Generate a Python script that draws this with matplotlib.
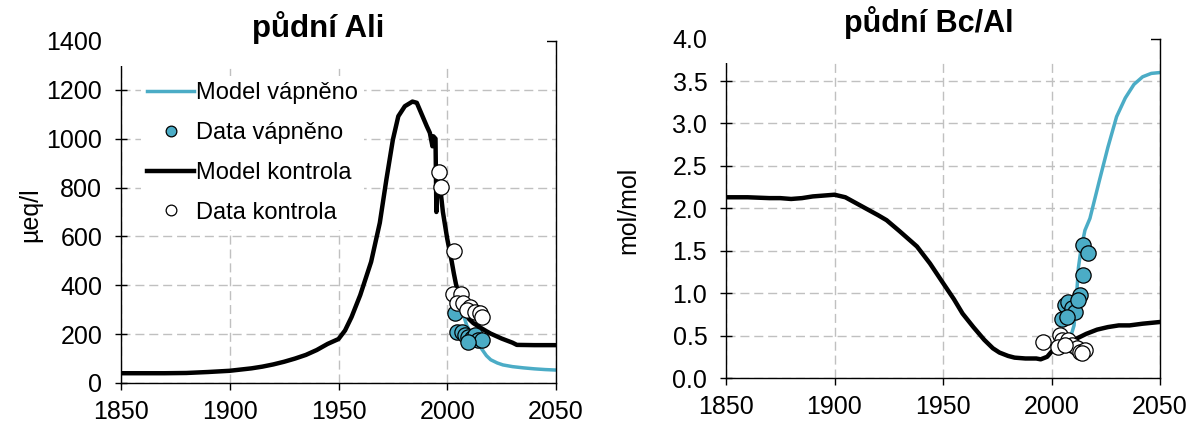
import numpy as np
import matplotlib.pyplot as plt
from matplotlib.patches import Rectangle

plt.rcParams['font.family'] = ['Liberation Sans', 'DejaVu Sans']

BLUE = '#4BACC6'

# --- půdní Ali (µeq/l) ---
ali_kontrola_rok = [1850, 1860, 1870, 1880, 1885, 1890, 1900, 1905, 1910, 1915, 1920, 1925,
                    1930, 1935, 1940, 1945, 1950, 1953, 1956, 1960, 1965, 1969, 1972, 1975,
                    1977.5, 1980.5, 1984, 1986, 1988.3, 1990.6, 1992, 1993.2, 1993.6, 1994.6,
                    1995.0, 1995.5, 1996.7, 1998, 2000, 2002, 2003, 2004, 2005, 2006, 2008,
                    2010, 2012, 2015, 2018, 2020, 2025, 2030, 2032, 2040, 2050]
ali_kontrola = [40, 40, 40, 41, 43, 45, 50, 55, 60, 67, 76, 87,
                100, 115, 135, 160, 180, 215, 270, 360, 496, 656, 832, 996,
                1092, 1133, 1152, 1147, 1099, 1051, 1024, 969, 1010, 1000,
                700, 830, 805, 700, 590, 500, 450, 405, 370, 340, 292,
                262, 245, 228, 212, 202, 182, 165, 156, 155, 155]

ali_vapneno_rok = [2005, 2007, 2009, 2012, 2015, 2018, 2020, 2023, 2025.6, 2030, 2035, 2040, 2045, 2050]
ali_vapneno = [370, 290, 235, 190, 150, 112, 95, 82, 74, 67, 62, 58, 55, 53]

ali_data_vapneno_rok = [2003.6, 2004.3, 2006.6, 2008.2, 2009.7, 2011.2, 2012.8, 2014.3, 2015.8, 2009.7]
ali_data_vapneno = [286, 210, 210, 197, 190, 183, 197, 176, 176, 169]

ali_data_kontrola_rok = [1996.3, 1997.0, 2003.1, 2002.8, 2006.2, 2004.3, 2007.4, 2010.5, 2008.9,
                         2012.8, 2015.1, 2015.8]
ali_data_kontrola = [862, 802, 542, 365, 365, 327, 327, 313, 299, 292, 286, 272]

# --- půdní Bc/Al (mol/mol) ---
bcal_kontrola_rok = [1850, 1860, 1870, 1875, 1880, 1885, 1890, 1895, 1900, 1905, 1910, 1915,
                     1920, 1924, 1930, 1938, 1944, 1950, 1955, 1959, 1964, 1969, 1973, 1976,
                     1980, 1983, 1988, 1993, 1995, 1998, 2000, 2003, 2006, 2009, 2012, 2016,
                     2021, 2026, 2031, 2036, 2042, 2050]
bcal_kontrola = [2.13, 2.13, 2.12, 2.12, 2.11, 2.12, 2.14, 2.15, 2.16, 2.13, 2.06, 1.99,
                 1.92, 1.86, 1.73, 1.55, 1.35, 1.12, 0.93, 0.76, 0.60, 0.45, 0.35, 0.30,
                 0.26, 0.24, 0.23, 0.23, 0.22, 0.25, 0.31, 0.36, 0.40, 0.43, 0.47, 0.52,
                 0.57, 0.60, 0.62, 0.62, 0.64, 0.66]

bcal_vapneno_rok = [2006, 2007, 2009, 2010.4, 2011.5, 2012.4, 2013.5, 2015.4, 2017.7, 2022,
                    2026, 2030, 2034, 2038, 2042, 2046, 2050]
bcal_vapneno = [0.40, 0.42, 0.50, 0.62, 0.95, 1.30, 1.50, 1.74, 1.88, 2.32,
                2.72, 3.08, 3.30, 3.46, 3.55, 3.59, 3.60]

bcal_data_vapneno_rok = [2014.7, 2016.6, 2014.4, 2013.1, 2006.2, 2007.8, 2009.3, 2010.8, 2004.7,
                         2007.3, 2012.4]
bcal_data_vapneno = [1.57, 1.47, 1.21, 0.98, 0.86, 0.90, 0.82, 0.78, 0.70, 0.72, 0.92]

bcal_data_kontrola_rok = [1996.2, 2003.9, 2004.7, 2003.1, 2007.8, 2009.3, 2011.6, 2013.1, 2015.4,
                          2013.9, 2006.2]
bcal_data_kontrola = [0.43, 0.51, 0.45, 0.37, 0.45, 0.39, 0.35, 0.31, 0.33, 0.29, 0.39]

roky_ticks = [1850, 1900, 1950, 2000, 2050]

fig = plt.figure(figsize=(11.92, 4.25), dpi=100)
ax1 = fig.add_axes([121 / 1192, 42 / 425, 435 / 1192, 342 / 425])
ax2 = fig.add_axes([726 / 1192, 47 / 425, 434 / 1192, 339.4 / 425])


def styl(ax, ylim, yticks, yfmt):
    ax.set_xlim(1850, 2050)
    ax.set_ylim(*ylim)
    ax.set_xticks(roky_ticks)
    ax.set_yticks(yticks)
    ax.set_yticklabels([yfmt.format(v) for v in yticks])
    ax.grid(True, color='#c0c0c0', linewidth=1.0, dashes=(6.5, 3.5))
    ax.set_axisbelow(True)
    for s in ax.spines.values():
        s.set_linewidth(1.0)
    ax.tick_params(axis='y', direction='inout', length=9, width=1.0, pad=9, labelsize=18)
    ax.tick_params(axis='x', direction='out', length=5, width=1.0, pad=7, labelsize=18)
    # bílé pole pod nadpisem
    ax.add_patch(Rectangle((-0.03, 0.928), 1.01, 0.2, transform=ax.transAxes,
                           facecolor='white', edgecolor='none', zorder=3, clip_on=False))


styl(ax1, (0, 1400), list(range(0, 1401, 200)), '{:d}')
styl(ax2, (0, 4.0), list(np.arange(0, 4.01, 0.5)), '{:.1f}')

# levý panel
ax1.plot(ali_vapneno_rok, ali_vapneno, color=BLUE, lw=2.5, label='Model vápněno', zorder=2)
ax1.plot(ali_kontrola_rok, ali_kontrola, color='black', lw=3.2, label='Model kontrola', zorder=2.1)
ax1.plot(ali_data_vapneno_rok, ali_data_vapneno, 'o', ms=11, mfc=BLUE, mec='black', mew=0.9,
         label='Data vápněno', zorder=2.2)
ax1.plot(ali_data_kontrola_rok, ali_data_kontrola, 'o', ms=11, mfc='white', mec='black', mew=0.9,
         label='Data kontrola', zorder=2.3)

# pravý panel
ax2.plot(bcal_kontrola_rok, bcal_kontrola, color='black', lw=3.2, zorder=2.1)
ax2.plot(bcal_vapneno_rok, bcal_vapneno, color=BLUE, lw=2.5, zorder=2)
ax2.plot(bcal_data_vapneno_rok, bcal_data_vapneno, 'o', ms=11, mfc=BLUE, mec='black', mew=0.9,
         zorder=2.2)
ax2.plot(bcal_data_kontrola_rok, bcal_data_kontrola, 'o', ms=11, mfc='white', mec='black', mew=0.9,
         zorder=2.3)

handles, labels = ax1.get_legend_handles_labels()
order = ['Model vápněno', 'Data vápněno', 'Model kontrola', 'Data kontrola']
h = [handles[labels.index(n)] for n in order]
leg = ax1.legend(h, order, loc='upper left', bbox_to_anchor=(141 / 1192, 1 - 76 / 425),
                 bbox_transform=fig.transFigure, fontsize=17, frameon=True, fancybox=False,
                 edgecolor='none', facecolor='white', framealpha=1, borderpad=0.25,
                 handlelength=2.0, handletextpad=0.1, labelspacing=0.76, markerscale=0.7,
                 borderaxespad=0)
leg.set_zorder(4)

fig.text(30 / 1192, 1 - 215 / 425, 'µeq/l', rotation=90, ha='center', va='center', fontsize=18)
fig.text(628 / 1192, 1 - 210 / 425, 'mol/mol', rotation=90, ha='center', va='center', fontsize=18)

fig.text(318 / 1192, 1 - 37 / 425, 'půdní Ali', ha='center', va='baseline',
         fontsize=22.5, fontweight='bold')
fig.text(929 / 1192, 1 - 32 / 425, 'půdní Bc/Al', ha='center', va='baseline',
         fontsize=22, fontweight='bold')

fig.savefig('out.png', dpi=100, facecolor='white')
